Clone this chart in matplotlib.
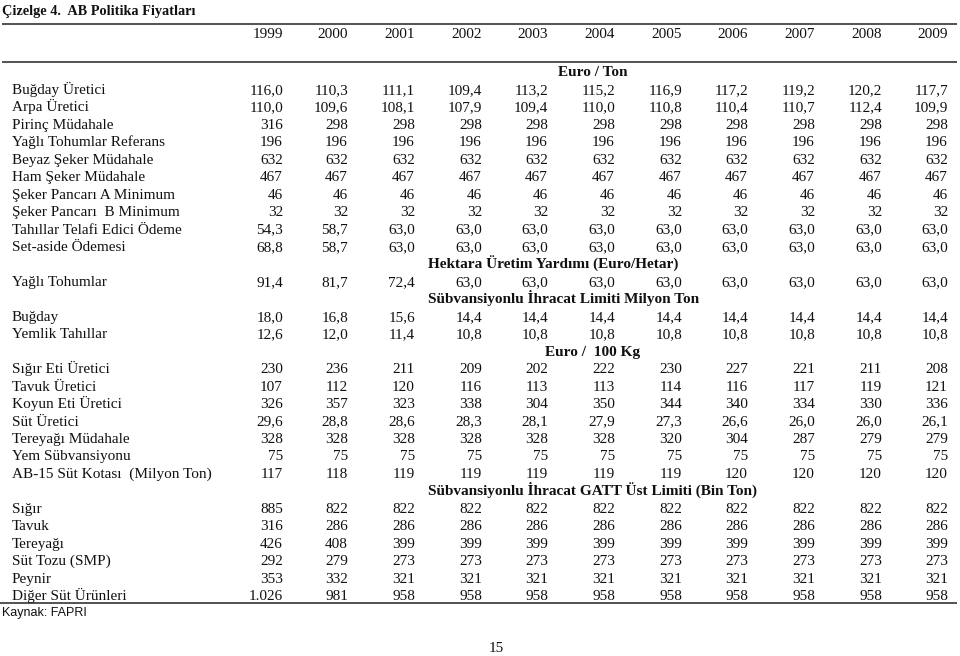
import matplotlib
matplotlib.use("Agg")
import matplotlib.pyplot as plt

years = ["1999", "2000", "2001", "2002", "2003", "2004", "2005", "2006", "2007", "2008", "2009"]

title = "Çizelge 4.  AB Politika Fiyatları"
source = "Kaynak: FAPRI"
page_number = "15"

sec1_header = "Euro / Ton"
bugday_uretici = [116.0, 110.3, 111.1, 109.4, 113.2, 115.2, 116.9, 117.2, 119.2, 120.2, 117.7]
arpa_uretici = [110.0, 109.6, 108.1, 107.9, 109.4, 110.0, 110.8, 110.4, 110.7, 112.4, 109.9]
pirinc = [316, 298, 298, 298, 298, 298, 298, 298, 298, 298, 298]
yagli_ref = [196, 196, 196, 196, 196, 196, 196, 196, 196, 196, 196]
beyaz_seker = [632, 632, 632, 632, 632, 632, 632, 632, 632, 632, 632]
ham_seker = [467, 467, 467, 467, 467, 467, 467, 467, 467, 467, 467]
pancar_a = [46, 46, 46, 46, 46, 46, 46, 46, 46, 46, 46]
pancar_b = [32, 32, 32, 32, 32, 32, 32, 32, 32, 32, 32]
tahil_telafi = [54.3, 58.7, 63.0, 63.0, 63.0, 63.0, 63.0, 63.0, 63.0, 63.0, 63.0]
set_aside = [68.8, 58.7, 63.0, 63.0, 63.0, 63.0, 63.0, 63.0, 63.0, 63.0, 63.0]

sec2_header = "Hektara Üretim Yardımı (Euro/Hetar)"
yagli_tohum = [91.4, 81.7, 72.4, 63.0, 63.0, 63.0, 63.0, 63.0, 63.0, 63.0, 63.0]

sec3_header = "Sübvansiyonlu İhracat Limiti Milyon Ton"
bugday = [18.0, 16.8, 15.6, 14.4, 14.4, 14.4, 14.4, 14.4, 14.4, 14.4, 14.4]
yemlik = [12.6, 12.0, 11.4, 10.8, 10.8, 10.8, 10.8, 10.8, 10.8, 10.8, 10.8]

sec4_header = "Euro /  100 Kg"
sigir_eti = [230, 236, 211, 209, 202, 222, 230, 227, 221, 211, 208]
tavuk_uretici = [107, 112, 120, 116, 113, 113, 114, 116, 117, 119, 121]
koyun_eti = [326, 357, 323, 338, 304, 350, 344, 340, 334, 330, 336]
sut_uretici = [29.6, 28.8, 28.6, 28.3, 28.1, 27.9, 27.3, 26.6, 26.0, 26.0, 26.1]
tereyagi_mud = [328, 328, 328, 328, 328, 328, 320, 304, 287, 279, 279]
yem_sub = [75, 75, 75, 75, 75, 75, 75, 75, 75, 75, 75]
sut_kota = [117, 118, 119, 119, 119, 119, 119, 120, 120, 120, 120]

sec5_header = "Sübvansiyonlu İhracat GATT Üst Limiti (Bin Ton)"
sigir = [885, 822, 822, 822, 822, 822, 822, 822, 822, 822, 822]
tavuk = [316, 286, 286, 286, 286, 286, 286, 286, 286, 286, 286]
tereyagi = [426, 408, 399, 399, 399, 399, 399, 399, 399, 399, 399]
sut_tozu = [292, 279, 273, 273, 273, 273, 273, 273, 273, 273, 273]
peynir = [353, 332, 321, 321, 321, 321, 321, 321, 321, 321, 321]
diger_sut = [1026, 981, 958, 958, 958, 958, 958, 958, 958, 958, 958]

# (kind, label, values, decimals, header x)
rows = [
    ("H", sec1_header, None, 0, 558),
    ("R", "Buğday Üretici", bugday_uretici, 1, None),
    ("R", "Arpa Üretici", arpa_uretici, 1, None),
    ("R", "Pirinç Müdahale", pirinc, 0, None),
    ("R", "Yağlı Tohumlar Referans", yagli_ref, 0, None),
    ("R", "Beyaz Şeker Müdahale", beyaz_seker, 0, None),
    ("R", "Ham Şeker Müdahale", ham_seker, 0, None),
    ("R", "Şeker Pancarı A Minimum", pancar_a, 0, None),
    ("R", "Şeker Pancarı  B Minimum", pancar_b, 0, None),
    ("R", "Tahıllar Telafi Edici Ödeme", tahil_telafi, 1, None),
    ("R", "Set-aside Ödemesi", set_aside, 1, None),
    ("H", sec2_header, None, 0, 428),
    ("R", "Yağlı Tohumlar", yagli_tohum, 1, None),
    ("H", sec3_header, None, 0, 428),
    ("R", "Buğday", bugday, 1, None),
    ("R", "Yemlik Tahıllar", yemlik, 1, None),
    ("H", sec4_header, None, 0, 545),
    ("R", "Sığır Eti Üretici", sigir_eti, 0, None),
    ("R", "Tavuk Üretici", tavuk_uretici, 0, None),
    ("R", "Koyun Eti Üretici", koyun_eti, 0, None),
    ("R", "Süt Üretici", sut_uretici, 1, None),
    ("R", "Tereyağı Müdahale", tereyagi_mud, 0, None),
    ("R", "Yem Sübvansiyonu", yem_sub, 0, None),
    ("R", "AB-15 Süt Kotası  (Milyon Ton)", sut_kota, 0, None),
    ("H", sec5_header, None, 0, 428),
    ("R", "Sığır", sigir, 0, None),
    ("R", "Tavuk", tavuk, 0, None),
    ("R", "Tereyağı", tereyagi, 0, None),
    ("R", "Süt Tozu (SMP)", sut_tozu, 0, None),
    ("R", "Peynir", peynir, 0, None),
    ("R", "Diğer Süt Ürünleri", diger_sut, 0, None),
]


def fmt(v, d):
    s = f"{v:,.{d}f}"
    return s.replace(",", "#").replace(".", ",").replace("#", ".")


W, H = 960, 656
fig = plt.figure(figsize=(W / 100, H / 100), dpi=100)
ax = fig.add_axes([0, 0, 1, 1])
ax.set_xlim(0, W)
ax.set_ylim(H, 0)
ax.axis("off")

serif = "Liberation Serif"
sans = "Liberation Sans"
fs = 11
tc = "#111111"
col_right = [283, 348, 415, 482, 548, 615, 682, 748, 815, 882, 948]

ax.text(2, 14.5, title, fontfamily=serif, fontweight="bold", fontsize=10.3,
        ha="left", va="baseline", color=tc)
ax.plot([2, 957], [23.5, 23.5], color="#444444", lw=1.3, solid_capstyle="butt")
ax.plot([2, 957], [61.5, 61.5], color="#444444", lw=1.3, solid_capstyle="butt")
for yr, xr in zip(years, col_right):
    ax.text(xr, 38, yr, fontfamily=serif, fontsize=fs, ha="right", va="baseline", color=tc)

y0, dy = 76.5, 17.45
for i, (kind, label, vals, d, hx) in enumerate(rows):
    y = y0 + i * dy
    if kind == "H":
        ax.text(hx, y, label, fontfamily=serif, fontweight="bold", fontsize=fs,
                ha="left", va="baseline", color=tc)
    else:
        ax.text(12, y, label, fontfamily=serif, fontsize=fs, ha="left", va="baseline", color=tc)
        for v, xr in zip(vals, col_right):
            ax.text(xr, y, fmt(v, d), fontfamily=serif, fontsize=fs,
                    ha="right", va="baseline", color=tc)

ax.plot([0, 957], [602.5, 602.5], color="#444444", lw=1.3, solid_capstyle="butt")
ax.text(2, 616, source, fontfamily=sans, fontsize=9, ha="left", va="baseline", color=tc)
ax.text(496, 651.5, page_number, fontfamily=serif, fontsize=fs, ha="center", va="baseline", color=tc)

fig.savefig("out.png", dpi=100)
